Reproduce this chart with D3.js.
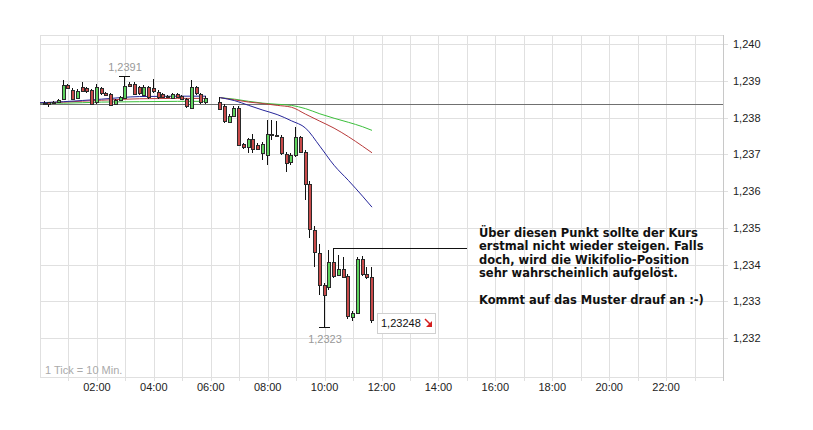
<!DOCTYPE html>
<html><head><meta charset="utf-8">
<script src="https://cdn.jsdelivr.net/npm/d3@7"></script>
<style>body{margin:0;background:#fff}svg{display:block}text{font-family:"Liberation Sans",Arial,sans-serif}</style>
</head><body><svg id="c" width="813" height="430"></svg>
<script>
// ---- data ----
const times = ["00:10","00:20","00:30","00:40","00:50","01:00","01:10","01:20","01:30","01:40","01:50","02:00","02:10","02:20","02:30","02:40","02:50","03:00","03:10","03:20","03:30","03:40","03:50","04:00","04:10","04:20","04:30","04:40","04:50","05:00","05:10","05:20","05:30","05:40","05:50",
"06:20","06:30","06:40","06:50","07:00","07:10","07:20","07:30","07:40","07:50","08:00","08:10","08:20","08:30","08:40","08:50","09:00","09:10","09:20","09:30","09:40","09:50","10:00","10:10","10:20","10:30","10:40","10:50","11:00","11:10","11:20","11:30","11:40"];
const open = [1.23840,1.23841,1.23842,1.23841,1.23849,1.23888,1.23876,1.23852,1.23883,1.23879,
1.23874,1.23840,1.23879,1.23868,1.23865,1.23836,1.23847,1.23852,1.23891,1.23891,
1.23882,1.23861,1.23882,1.23879,1.23870,1.23865,1.23858,1.23854,1.23865,1.23858,
1.23849,1.23824,1.23882,1.23865,1.23842,
1.23843,1.23831,1.23790,1.23805,1.23827,1.23727,1.23719,1.23742,1.23725,1.23703,
1.23700,1.23756,1.23753,1.23746,1.23700,1.23678,1.23697,1.23746,1.23706,1.23620,
1.23495,1.23432,1.23344,1.23339,1.23407,1.23371,1.23389,1.23368,1.23258,1.23269,
1.23416,1.23374,1.23365];
const high = [1.23844,1.23842,1.23844,1.23850,1.23901,1.23891,1.23880,1.23877,1.23897,1.23882,
1.23877,1.23891,1.23882,1.23870,1.23867,1.23849,1.23858,1.23912,1.23896,1.23896,
1.23885,1.23888,1.23885,1.23905,1.23874,1.23868,1.23862,1.23868,1.23867,1.23860,
1.23852,1.23901,1.23885,1.23868,1.23858,
1.23855,1.23836,1.23809,1.23831,1.23831,1.23730,1.23745,1.23756,1.23730,1.23733,
1.23793,1.23793,1.23790,1.23752,1.23706,1.23703,1.23774,1.23749,1.23711,1.23627,
1.23504,1.23455,1.23349,1.23439,1.23444,1.23425,1.23420,1.23374,1.23273,1.23420,
1.23423,1.23394,1.23393];
const low = [1.23836,1.23829,1.23836,1.23839,1.23847,1.23877,1.23847,1.23850,1.23872,1.23866,
1.23833,1.23836,1.23861,1.23860,1.23833,1.23833,1.23845,1.23850,1.23883,1.23861,
1.23861,1.23858,1.23850,1.23866,1.23850,1.23856,1.23853,1.23852,1.23854,1.23847,
1.23827,1.23822,1.23861,1.23838,1.23836,
1.23823,1.23784,1.23784,1.23804,1.23722,1.23714,1.23703,1.23703,1.23711,1.23684,
1.23670,1.23740,1.23746,1.23697,1.23651,1.23670,1.23692,1.23703,1.23575,1.23472,
1.23394,1.23317,1.23230,1.23330,1.23363,1.23368,1.23366,1.23253,1.23247,1.23265,
1.23368,1.23360,1.23240];
const close = [1.23839,1.23835,1.23838,1.23847,1.23888,1.23879,1.23852,1.23872,1.23872,1.23870,
1.23836,1.23882,1.23865,1.23863,1.23836,1.23847,1.23856,1.23885,1.23885,1.23865,
1.23865,1.23883,1.23856,1.23870,1.23856,1.23858,1.23856,1.23865,1.23856,1.23849,
1.23829,1.23882,1.23865,1.23842,1.23854,
1.23824,1.23790,1.23805,1.23827,1.23725,1.23719,1.23742,1.23714,1.23715,1.23727,
1.23756,1.23753,1.23752,1.23702,1.23676,1.23697,1.23746,1.23706,1.23620,1.23498,
1.23436,1.23344,1.23317,1.23407,1.23368,1.23387,1.23368,1.23258,1.23269,1.23416,
1.23374,1.23365,1.23248];

// moving averages, segment 1 and segment 2
const maTimes1 = ["00:00","00:50","02:10","03:30","04:50","05:50"];
const maBlue1  = [1.23840,1.23843,1.23850,1.23857,1.23858,1.23858];
const maRed1   = [1.23840,1.23842,1.23847,1.23851,1.23852,1.23852];
const maGreen1 = [1.23839,1.23839,1.23842,1.23843,1.23844,1.23844];
const maTimes2 = ["06:20","06:50","07:20","07:50","08:20","08:50","09:20","09:50","10:20","10:50","11:20","11:40"];
const maBlue2  = [1.23854,1.23846,1.23833,1.23820,1.23808,1.23791,1.23771,1.23722,1.23670,1.23629,1.23586,1.23556];
const maRed2   = [1.23854,1.23848,1.23842,1.23838,1.23833,1.23828,1.23809,1.23790,1.23771,1.23748,1.23722,1.23704];
const maGreen2 = [1.23854,1.23850,1.23844,1.23839,1.23836,1.23833,1.23824,1.23810,1.23798,1.23787,1.23775,1.23765];

const yTickLabels = ["1,232","1,233","1,234","1,235","1,236","1,237","1,238","1,239","1,240"];
const xTickLabels = ["02:00","04:00","06:00","08:00","10:00","12:00","14:00","16:00","18:00","20:00","22:00"];
const refLevel = 1.23836;
const highLabel = "1,2391", highTime = "03:00";
const lowLabel = "1,2323", lowTime = "10:00";
const lastLabel = "1,23248";
const annotLevel = 1.23444, annotFrom = "10:20", annotTo = "15:00";
const annotLines = ["Über diesen Punkt sollte der Kurs","erstmal nicht wieder steigen. Falls","doch, wird die Wikifolio-Position","sehr wahrscheinlich aufgelöst.","","Kommt auf das Muster drauf an :-)"];
const tickNote = "1 Tick = 10 Min.";

// ---- scales ----
const tmin = s => { const [h,m] = s.split(":").map(Number); return h*60+m; };
const num = s => +s.replace(",", ".");
const x = d3.scaleLinear().domain([0,1440]).range([40,723]);
const y = d3.scaleLinear().domain([1.232,1.240]).range([338,44]);
const svg = d3.select("#c");
const T = 35, B = 377, L = 40, R = 723;

// grid
const g = svg.append("g").attr("shape-rendering","crispEdges");
g.selectAll(".vg").data(d3.range(1,24)).enter().append("line")
  .attr("x1", d=>Math.round(x(d*60))+0.5).attr("x2", d=>Math.round(x(d*60))+0.5)
  .attr("y1", T).attr("y2", B+4).attr("stroke","#e0e0e0");
g.selectAll(".hg").data(yTickLabels).enter().append("line")
  .attr("x1", L).attr("x2", R+5)
  .attr("y1", d=>Math.round(y(num(d)))+0.5).attr("y2", d=>Math.round(y(num(d)))+0.5)
  .attr("stroke","#e0e0e0");
g.append("rect").attr("x",L+0.5).attr("y",T+0.5).attr("width",R-L).attr("height",B-T)
  .attr("fill","none").attr("stroke","#e0e0e0");
g.append("line").attr("x1",R+0.5).attr("x2",R+0.5).attr("y1",T).attr("y2",B+4).attr("stroke","#c8c8c8");

// axis labels
svg.selectAll(".yl").data(yTickLabels).enter().append("text")
  .attr("x", 733).attr("y", d=>y(num(d))+4).attr("font-size",11).attr("fill","#222").text(d=>d);
svg.selectAll(".xl").data(xTickLabels).enter().append("text")
  .attr("x", d=>x(tmin(d))).attr("y", 391).attr("text-anchor","middle")
  .attr("font-size",11).attr("fill","#222").text(d=>d);
svg.append("text").attr("x",45).attr("y",374).attr("font-size",11).attr("fill","#aaa").text(tickNote);

// reference line
svg.append("line").attr("shape-rendering","crispEdges")
  .attr("x1",L).attr("x2",R).attr("y1",Math.round(y(refLevel))+0.5).attr("y2",Math.round(y(refLevel))+0.5)
  .attr("stroke","#707070");

// moving averages
const line = d3.line().x(d=>x(tmin(d[0]))).y(d=>y(d[1])).curve(d3.curveMonotoneX);
const ma = [[maTimes1,maGreen1,"#3cbf3c"],[maTimes1,maRed1,"#b83a3a"],[maTimes1,maBlue1,"#26269a"],
            [maTimes2,maGreen2,"#3cbf3c"],[maTimes2,maRed2,"#b83a3a"],[maTimes2,maBlue2,"#26269a"]];
ma.forEach(([t,v,c])=>{
  svg.append("path").datum(t.map((s,i)=>[s,v[i]])).attr("d",line)
    .attr("fill","none").attr("stroke",c).attr("stroke-width",1);
});

// candles
const candles = times.map((t,i)=>({t, o:open[i], h:high[i], l:low[i], c:close[i]}));
const cg = svg.append("g").attr("shape-rendering","crispEdges");
const cx = d => Math.round(x(tmin(d.t)));
cg.selectAll(".w").data(candles).enter().append("line")
  .attr("x1", d=>cx(d)-0.5).attr("x2", d=>cx(d)-0.5)
  .attr("y1", d=>Math.round(y(d.h))).attr("y2", d=>Math.round(y(d.l)))
  .attr("stroke","#111");
cg.selectAll(".b").data(candles).enter().append("rect")
  .attr("x", d=>cx(d)-2+0.5).attr("width",3)
  .attr("y", d=>Math.round(y(Math.max(d.o,d.c)))+0.5)
  .attr("height", d=>Math.max(1, Math.round(Math.abs(y(d.o)-y(d.c)))))
  .attr("fill", d=> d.c>=d.o ? "#5ed35e" : "#c84a4a")
  .attr("stroke","#2a2a2a");

// high / low markers
const hc = candles.find(d=>d.t===highTime), lc = candles.find(d=>d.t===lowTime);
cg.append("line").attr("x1",cx(hc)-6).attr("x2",cx(hc)+5).attr("y1",Math.round(y(hc.h))+0.5).attr("y2",Math.round(y(hc.h))+0.5).attr("stroke","#111");
cg.append("line").attr("x1",cx(lc)-6).attr("x2",cx(lc)+5).attr("y1",Math.round(y(lc.l))+0.5).attr("y2",Math.round(y(lc.l))+0.5).attr("stroke","#111");
svg.append("text").attr("x",cx(hc)).attr("y",y(hc.h)-5).attr("text-anchor","middle").attr("font-size",11).attr("fill","#999").text(highLabel);
svg.append("text").attr("x",cx(lc)).attr("y",y(lc.l)+16).attr("text-anchor","middle").attr("font-size",11).attr("fill","#999").text(lowLabel);

// annotation line
svg.append("line").attr("shape-rendering","crispEdges")
  .attr("x1",x(tmin(annotFrom))).attr("x2",x(tmin(annotTo)))
  .attr("y1",Math.round(y(annotLevel))+0.5).attr("y2",Math.round(y(annotLevel))+0.5).attr("stroke","#111");

// last price box
const last = candles[candles.length-1];
const bx = cx(last)+5, by = Math.round(y(last.c))-7;
svg.append("rect").attr("shape-rendering","crispEdges").attr("x",bx+0.5).attr("y",by+0.5).attr("width",58).attr("height",20)
  .attr("fill","#fff").attr("stroke","#d0d0d0");
svg.append("text").attr("x",bx+4).attr("y",by+14).attr("font-size",11).attr("fill","#111").text(lastLabel);
svg.append("path").attr("d",`M${bx+48},${by+6} L${bx+54},${by+12}`).attr("stroke","#d42020").attr("stroke-width",1.5);
svg.append("path").attr("d",`M${bx+55},${by+8} L${bx+55},${by+14} L${bx+49},${by+14} Z`).attr("fill","#d42020");

// annotation text
const at = svg.append("g");
const tl = at.selectAll("text").data(annotLines).enter().append("text")
  .attr("x",479).attr("y",(d,i)=>237 + i*13.4)
  .style("font-family","'DejaVu Sans', Verdana, sans-serif").style("font-weight","bold")
  .attr("font-size",11).attr("fill","#111").text(d=>d);
const w0 = tl.nodes()[0].getComputedTextLength();
const fs = 11 * 219 / w0;
tl.attr("font-size", fs);
</script></body></html>
